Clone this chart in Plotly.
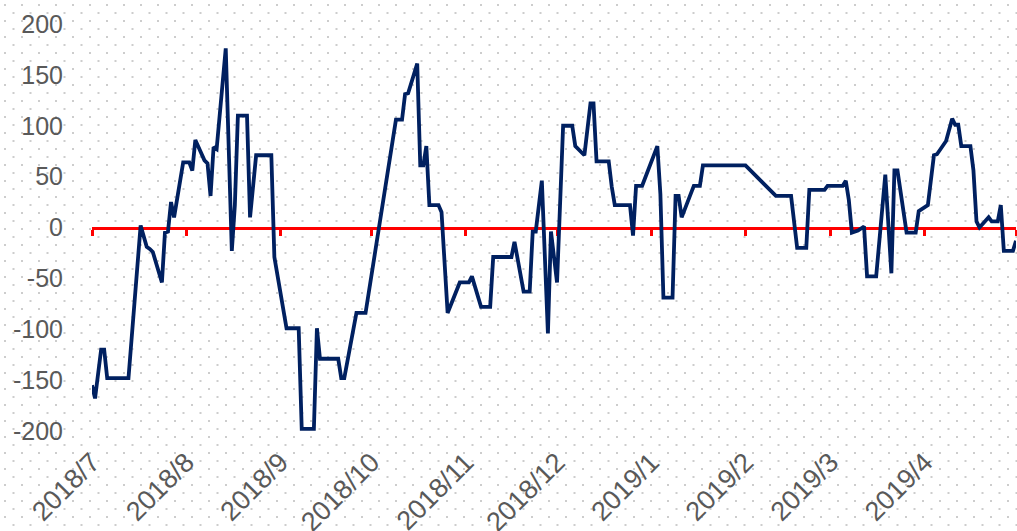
import base64
import plotly.graph_objects as go

# ---- data ----
dates = [
    "2018-07-01", "2018-07-02", "2018-07-04", "2018-07-05", "2018-07-06", "2018-07-13",
    "2018-07-17", "2018-07-19", "2018-07-20", "2018-07-21", "2018-07-24", "2018-07-25",
    "2018-07-26", "2018-07-27", "2018-07-28", "2018-07-31", "2018-08-02", "2018-08-03",
    "2018-08-04", "2018-08-07", "2018-08-08", "2018-08-09", "2018-08-10", "2018-08-11",
    "2018-08-14", "2018-08-16", "2018-08-17", "2018-08-18", "2018-08-21", "2018-08-22",
    "2018-08-24", "2018-08-29", "2018-08-30", "2018-08-31", "2018-09-03", "2018-09-07",
    "2018-09-08", "2018-09-12", "2018-09-13", "2018-09-14", "2018-09-20", "2018-09-21",
    "2018-09-22", "2018-09-26", "2018-09-29", "2018-10-09", "2018-10-11", "2018-10-12",
    "2018-10-13", "2018-10-16", "2018-10-17", "2018-10-18", "2018-10-19", "2018-10-20",
    "2018-10-23", "2018-10-24", "2018-10-26", "2018-10-30", "2018-11-02", "2018-11-03",
    "2018-11-06", "2018-11-09", "2018-11-10", "2018-11-16", "2018-11-17", "2018-11-20",
    "2018-11-22", "2018-11-23", "2018-11-24", "2018-11-26", "2018-11-28", "2018-11-29",
    "2018-12-01", "2018-12-03", "2018-12-06", "2018-12-07", "2018-12-10", "2018-12-12",
    "2018-12-13", "2018-12-14", "2018-12-18", "2018-12-19", "2018-12-20", "2018-12-25",
    "2018-12-26", "2018-12-27", "2018-12-29", "2019-01-03", "2019-01-04", "2019-01-05",
    "2019-01-08", "2019-01-09", "2019-01-10", "2019-01-11", "2019-01-15", "2019-01-17",
    "2019-01-18", "2019-02-01", "2019-02-11", "2019-02-16", "2019-02-18", "2019-02-21",
    "2019-02-22", "2019-02-27", "2019-02-28", "2019-03-05", "2019-03-06", "2019-03-07",
    "2019-03-08", "2019-03-10", "2019-03-12", "2019-03-13", "2019-03-16", "2019-03-19",
    "2019-03-21", "2019-03-22", "2019-03-23", "2019-03-26", "2019-03-29", "2019-03-30",
    "2019-04-01", "2019-04-02", "2019-04-04", "2019-04-05", "2019-04-08", "2019-04-10",
    "2019-04-11", "2019-04-12", "2019-04-13", "2019-04-16", "2019-04-17", "2019-04-18",
    "2019-04-19", "2019-04-22", "2019-04-23", "2019-04-25", "2019-04-26", "2019-04-27",
    "2019-04-30", "2019-05-01",
]
values = [
    -155, -168, -120, -120, -148, -148,
    2, -19, -21, -24, -54, -5,
    -4, 25, 10, 64, 64, 56,
    86, 66, 63, 31, 79, 77,
    176, -23, 22, 110, 110, 10,
    71, 71, -29, -47, -99, -99,
    -198, -198, -99, -129, -129, -148,
    -148, -84, -84, 106, 106, 131,
    132, 161, 61, 61, 80, 22,
    22, 15, -84, -54, -54, -48,
    -78, -78, -29, -29, -14, -63,
    -63, -4, -4, 46, -104, -4,
    -54, 100, 100, 80, 71, 122,
    122, 65, 65, 40, 22, 22,
    -8, 41, 41, 80, 33, -69,
    -69, 31, 31, 10, 41, 41,
    61, 61, 31, 31, -20, -20,
    37, 37, 41, 41, 46, 27,
    -5, -3, 1, -48, -48, 52,
    -45, 56, 56, -5, -5, 16,
    20, 22, 71, 72, 85, 107,
    101, 101, 80, 80, 56, 6,
    0, 10, 6, 6, 22, -23,
    -23, -13,
]

month_ticks = ["2018-07-01", "2018-08-01", "2018-09-01", "2018-10-01", "2018-11-01",
               "2018-12-01", "2019-01-01", "2019-02-01", "2019-03-01", "2019-04-01",
               "2019-05-01"]
label_dates = month_ticks[:10]
label_texts = ["2018/7", "2018/8", "2018/9", "2018/10", "2018/11", "2018/12",
               "2019/1", "2019/2", "2019/3", "2019/4"]
y_ticks = [-200, -150, -100, -50, 0, 50, 100, 150, 200]
y_labels = ["-200", "-150", "-100", "-50", "0", "50", "100", "150", "200"]

# ---- geometry ----
W, H = 1017, 531
ML, MR, MT, MB = 92, 1, 24, 100
PW, PH = W - ML - MR, H - MT - MB
x_range = ["2018-07-01", "2019-05-01"]

# dotted background texture
svg = (
    f"<svg xmlns='http://www.w3.org/2000/svg' width='{W}' height='{H}'>"
    "<defs><pattern id='p' x='0' y='0' width='17' height='16' patternUnits='userSpaceOnUse'>"
    "<rect x='4' y='4' width='2' height='2' fill='#cdcdcd'/>"
    "<rect x='12.5' y='12' width='2' height='2' fill='#cdcdcd'/>"
    "</pattern></defs>"
    f"<rect width='{W}' height='{H}' fill='url(#p)'/></svg>"
)
bg_src = "data:image/svg+xml;base64," + base64.b64encode(svg.encode()).decode()

FONT = "Liberation Sans, Arial, sans-serif"
GRAY = "#595959"

fig = go.Figure()
fig.add_trace(go.Scatter(
    x=dates, y=values, mode="lines",
    line=dict(color="#002060", width=3.8),
    showlegend=False, hoverinfo="skip",
))
# helper trace to carry the label axis
fig.add_trace(go.Scatter(
    x=label_dates, y=[None] * len(label_dates), xaxis="x2", yaxis="y",
    mode="lines", showlegend=False, hoverinfo="skip",
))

fig.update_layout(
    width=W, height=H,
    margin=dict(l=ML, r=MR, t=MT, b=MB, pad=0, autoexpand=False),
    paper_bgcolor="white",
    plot_bgcolor="rgba(0,0,0,0)",
    font=dict(family=FONT, color=GRAY),
    images=[dict(
        source=bg_src, xref="paper", yref="paper",
        x=-ML / PW, y=1 + MT / PH, sizex=W / PW, sizey=H / PH,
        xanchor="left", yanchor="top", sizing="stretch", layer="below",
    )],
    xaxis=dict(
        type="date", range=x_range, anchor="free", position=0.5,
        showline=True, linecolor="#FF0000", linewidth=3.5,
        ticks="outside", tickcolor="#FF0000", ticklen=6, tickwidth=3,
        tickvals=month_ticks, showticklabels=False, automargin=False,
        showgrid=False, zeroline=False, layer="below traces",
    ),
    xaxis2=dict(
        type="date", range=x_range, overlaying="x", anchor="y", side="bottom",
        showline=False, ticks="", showgrid=False, zeroline=False,
        tickvals=label_dates, ticktext=label_texts, tickangle=-45,
        tickfont=dict(size=27, color=GRAY, family=FONT),
        ticklabelstandoff=9, automargin=False,
    ),
    yaxis=dict(
        range=[-200, 200], tickvals=y_ticks, ticktext=y_labels, ticks="",
        showline=False, showgrid=False, zeroline=False, automargin=False,
        tickfont=dict(size=25, color=GRAY, family=FONT),
        ticklabelstandoff=28,
    ),
)

fig.write_html(
    "out.html",
    config={"displayModeBar": False, "staticPlot": True},
    post_script="document.body.style.margin='0';document.body.style.overflow='hidden';",
)
